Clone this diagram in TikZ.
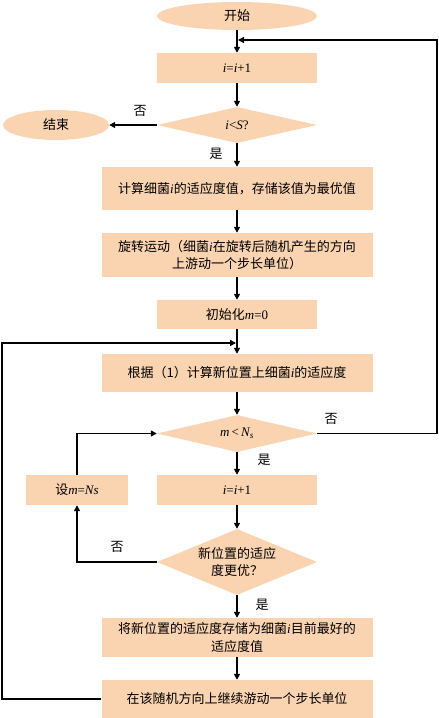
\documentclass[tikz,border=0pt]{standalone}
\usepackage{fontspec}
\setmainfont{Liberation Serif}
\newfontfamily\cjk{Noto Sans CJK SC}
\newcommand{\vv}[1]{{\rmfamily\itshape #1}}
\newcommand{\rr}[1]{{\rmfamily #1}}
\usetikzlibrary{shapes.geometric,arrows.meta}
\definecolor{peach}{HTML}{FAD3B0}
\tikzset{
  box/.style={draw=none,fill=peach,rectangle,inner sep=0pt,align=center,font=\cjk\fontsize{13}{17.5}\selectfont},
  wide/.style={box,minimum width=271pt,minimum height=43pt},
  narrow/.style={box,minimum width=160pt,minimum height=30pt},
  term/.style={box,ellipse,minimum width=160pt,minimum height=28pt},
  dec/.style={box,diamond,aspect=4.4,minimum width=160pt,minimum height=37pt,inner sep=0pt},
  conn/.style={line width=1.6pt,-{Triangle[length=6pt,width=6pt]}},
  lbl/.style={font=\cjk\fontsize{13}{15}\selectfont,inner sep=0pt}
}
\begin{document}
\begin{tikzpicture}[x=1pt,y=-1pt]
\useasboundingbox (0,0) rectangle (439,718);
\fill[white] (0,0) rectangle (439,718);
\node[term] (start) at (237,16) {开始};
\node[narrow] (inc1) at (237,68) {\vv{i}\rr{=}\vv{i}\rr{+1}};
\node[dec,minimum height=36pt] (d1) at (237,125) {\vv{i}\rr{<}\vv{S}\rr{?}};
\node[term,minimum width=106pt,minimum height=30pt] (end) at (56,125) {结束};
\node[wide,minimum height=43pt] (calc) at (237,188.5) {计算细菌\vv{i}的适应度值，存储该值为最优值};
\node[wide,minimum height=44pt] (rot) at (237,255) {旋转运动（细菌\vv{i}在旋转后随机产生的方向\\上游动一个步长单位）};
\node[narrow,minimum height=29pt] (init) at (237,314.5) {初始化\vv{m}\rr{=0}};
\node[wide,minimum height=38pt] (new) at (237,373) {根据（1）计算新位置上细菌\vv{i}的适应度};
\node[dec] (d2) at (237,433.5) {\vv{m}\rr{\,<\,}\vv{N}\textsubscript{\vv{s}}};
\node[narrow] (inc2) at (237,490) {\vv{i}\rr{=}\vv{i}\rr{+1}};
\node[box,minimum width=102pt,minimum height=30pt] (set) at (77,490) {设\vv{m}\rr{=}\vv{Ns}};
\node[dec,minimum height=66pt,aspect=2.4] (d3) at (237,562) {新位置的适应\\度更优？};
\node[wide,minimum height=39pt] (store) at (237,637.5) {将新位置的适应度存储为细菌\vv{i}目前最好的\\适应度值};
\node[wide,minimum height=38pt] (cont) at (237,699) {在该随机方向上继续游动一个步长单位};
\coordinate (j1) at (237,40);
\coordinate (j2) at (237,343);
% main flow
\draw[conn] (start) -- (inc1);
\draw[conn] (inc1) -- (d1);
\draw[conn] (d1.west) -- (end);
\draw[conn] (d1) -- (calc);
\draw[conn] (calc) -- (rot);
\draw[conn] (rot) -- (init);
\draw[conn] (init) -- (new);
\draw[conn] (new) -- (d2);
\draw[conn] (d2) -- (inc2);
\draw[conn] (inc2) -- (d3);
\draw[conn] (d3) -- (store);
\draw[conn] (store) -- (cont);
% loops
\draw[conn] (d2.east) -- (437,433.5) -- (437,40) -- ([xshift=1pt]j1);
\draw[conn] (cont.west) -- (2,699) -- (2,343) -- ([xshift=-1pt]j2);
\draw[conn] (d3.west) -- (77,562) -- (set.south);
\draw[conn] (set.north) -- (77,433.5) -- (d2.west);
% labels
\node[lbl] (l1) at (140,111) {否};
\node[lbl] (l2) at (216,154) {是};
\node[lbl] (l3) at (331,419) {否};
\node[lbl] (l4) at (264,460) {是};
\node[lbl] (l5) at (117,547) {否};
\node[lbl] (l6) at (262,605) {是};
\end{tikzpicture}
\end{document}
